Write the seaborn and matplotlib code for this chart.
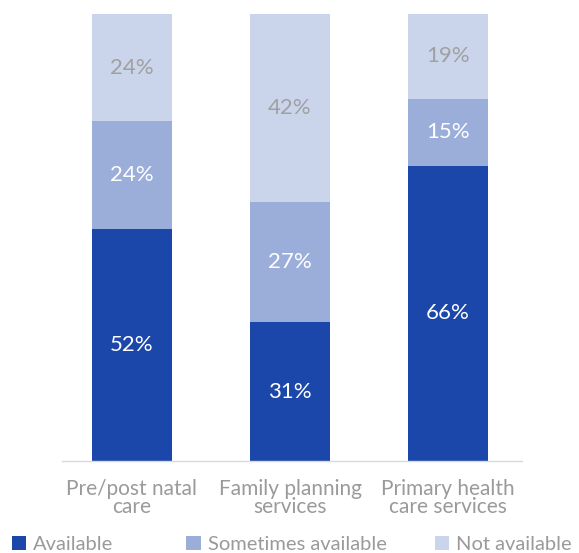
import matplotlib
matplotlib.use("Agg")
import matplotlib.pyplot as plt
import seaborn as sns
import pandas as pd
import numpy as np
from matplotlib.patches import Patch

categories = ["Pre/post natal\ncare", "Family planning\nservices", "Primary health\ncare services"]
available = [52, 31, 66]
sometimes = [24, 27, 15]
not_available = [24, 42, 19]
series_names = ["Available", "Sometimes available", "Not available"]
colors = ["#1b46aa", "#9badd9", "#cad5ec"]
label_colors = ["white", "white", "#a0a0a0"]
text_gray = "#9a9a9a"

sns.set_style("white")
plt.rcParams['font.family'] = ['Lato', 'DejaVu Sans']

fig = plt.figure(figsize=(5.79, 5.53), dpi=100)
ax = fig.add_axes([0.107, 0.1664, 0.7946, 0.8083])

a = np.array(available, float)
s = np.array(sometimes, float)
n = np.array(not_available, float)
layers = [a, s, n]
cum = [a + s + n, a + s, a]
for vals, c in zip(cum, colors[::-1]):
    df = pd.DataFrame({"cat": categories, "v": vals})
    sns.barplot(data=df, x="cat", y="v", color=c, width=0.506, ax=ax,
                saturation=1, errorbar=None, linewidth=0, edgecolor="none")

bottom = np.zeros(3)
for vals, tc in zip(layers, label_colors):
    for i, v in enumerate(vals):
        ax.text(i, bottom[i] + v / 2, f"{int(v)}%", ha="center", va="center",
                color=tc, fontsize=16)
    bottom += vals

ax.set_xlim(-0.443, 2.468)
ax.set_ylim(0, 100)
ax.set_xlabel("")
ax.set_ylabel("")
ax.set_yticks([])
for sp in ["top", "right", "left"]:
    ax.spines[sp].set_visible(False)
ax.spines["bottom"].set_color("#d9d9d9")
ax.spines["bottom"].set_linewidth(1)
ax.tick_params(axis="x", length=0, pad=13, labelsize=15, labelcolor=text_gray)
for t in ax.get_xticklabels():
    t.set_linespacing(0.9)

# legend entries placed individually
legend_x = [0.02, 0.322, 0.751]
for name, c, x in zip(series_names, colors, legend_x):
    fig.legend([Patch(facecolor=c, edgecolor="none")], [name], loc="lower left",
               bbox_to_anchor=(x, 0.0), frameon=False, handlelength=0.72,
               handleheight=0.72, handletextpad=0.35, borderpad=0, borderaxespad=0,
               labelcolor=text_gray, prop={"size": 14.5})

fig.savefig("out.png", dpi=100)
